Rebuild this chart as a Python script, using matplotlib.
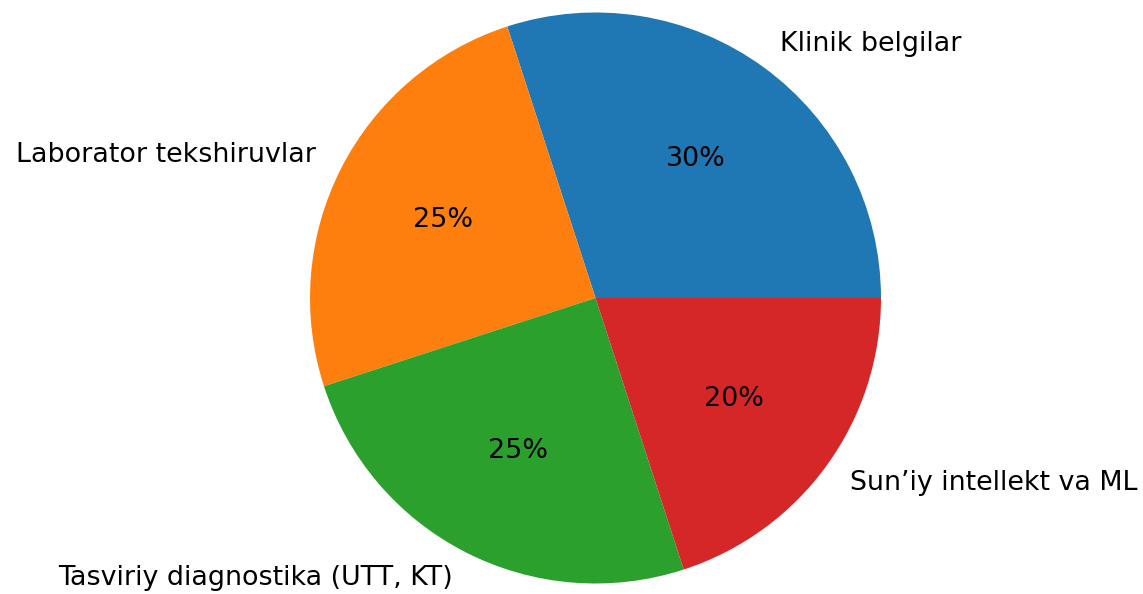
import matplotlib
matplotlib.use("Agg")
import matplotlib.pyplot as plt

labels = ["Klinik belgilar", "Laborator tekshiruvlar", "Tasviriy diagnostika (UTT, KT)", "Sun\u2019iy intellekt va ML"]
values = [30, 25, 25, 20]

W, H = 1143, 594
fig = plt.figure(figsize=(W / 100, H / 100), dpi=100)
R = 285.5
cx, cy = 595.5, 594 - 298
size = 2.5 * R
ax = fig.add_axes([(cx - size / 2) / W, (cy - size / 2) / H, size / W, size / H])
ax.pie(values, labels=labels, autopct="%1.0f%%",
       textprops={"fontsize": 19.35})
ax.set_xlim(-1.25, 1.25)
ax.set_ylim(-1.25, 1.25)
ax.set_aspect("equal")
fig.savefig("out.png", dpi=100)
